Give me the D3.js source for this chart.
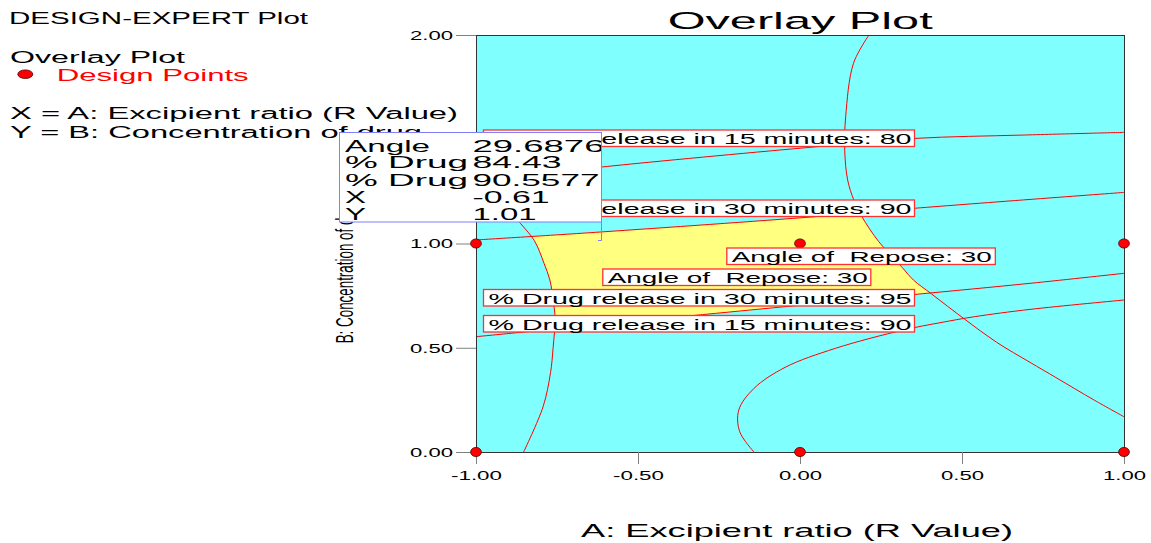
<!DOCTYPE html>
<html>
<head>
<meta charset="utf-8">
<script src="https://cdn.jsdelivr.net/npm/d3@7"></script>
<style>
  body { margin: 0; background: #fff; }
  svg text { font-family: "Liberation Sans", Arial, sans-serif; white-space: pre; }
</style>
</head>
<body>
<script>
// design points, coded levels of A and B
var designX = [-1, 0, 1, -1, 0, 1];
var designY = [0, 0, 0, 1, 1, 1];

var xTicks = [-1, -0.5, 0, 0.5, 1];
var yTicks = [0, 0.5, 1, 1.5, 2];

// contour lines, [A, B] pairs
var angleReposeLeft = [[-0.853, 0], [-0.793, 0.217], [-0.770, 0.38], [-0.762, 0.50], [-0.756, 0.64],
  [-0.762, 0.73], [-0.772, 0.825], [-0.790, 0.905], [-0.820, 1.014], [-0.862, 1.095], [-0.93, 1.22], [-1, 1.33]];
var angleReposeRight = [[0.213, 2.0], [0.165, 1.864], [0.141, 1.608], [0.138, 1.448], [0.147, 1.305],
  [0.166, 1.209], [0.191, 1.129], [0.243, 1.009], [0.316, 0.884], [0.350, 0.825], [0.406, 0.758],
  [0.509, 0.636], [0.607, 0.526], [0.710, 0.430], [0.790, 0.357], [0.908, 0.249], [1.0, 0.169]];
var release15min80 = [[-1, 1.30], [-0.58, 1.372], [0.05, 1.464], [0.354, 1.504], [0.686, 1.520], [1, 1.533]];
var release15min90 = [[-0.142, 0], [-0.186, 0.097], [-0.189, 0.201], [-0.142, 0.305], [-0.046, 0.406],
  [0.109, 0.497], [0.319, 0.585], [0.432, 0.620], [0.539, 0.649], [0.710, 0.684], [1, 0.729]];
var release30min90 = [[-1, 1.017], [-0.617, 1.055], [0.05, 1.129], [0.354, 1.169], [1, 1.245]];
var release30min95 = [[-1, 0.553], [0, 0.704], [0.350, 0.755], [0.710, 0.809], [1, 0.857]];

var flagLabels = ["% Drug release in 15 minutes: 80", "% Drug release in 30 minutes: 90",
  "Angle of  Repose: 30", "Angle of  Repose: 30",
  "% Drug release in 30 minutes: 95", "% Drug release in 15 minutes: 90"];

var probeNames = ["Angle", "% Drug", "% Drug", "X", "Y"];
var probeValues = ["29.6876", "84.43", "90.5577", "-0.61", "1.01"];

var W = 1151, H = 543;
var svg = d3.select("body").append("svg").attr("width", W).attr("height", H);

var x = d3.scaleLinear().domain([-1, 1]).range([476, 1124]);
var y = d3.scaleLinear().domain([0, 2]).range([452, 35]);

function stretched(sel, txt, tx, ty, size, len) {
  return sel.append("text")
    .attr("x", tx).attr("y", ty)
    .attr("font-size", size)
    .attr("textLength", len)
    .attr("lengthAdjust", "spacingAndGlyphs")
    .text(txt);
}

var line = d3.line()
  .x(function(d) { return x(d[0]); })
  .y(function(d) { return y(d[1]); })
  .curve(d3.curveCatmullRom.alpha(0.5));
var straight = d3.line().x(function(d) { return x(d[0]); }).y(function(d) { return y(d[1]); });
function area(pts, corners) {
  // smooth edge along the contour, straight edges round the corners
  var d = line(pts);
  return d + straight([pts[pts.length - 1]].concat(corners, [pts[0]])).replace(/^M/, "L") + "Z";
}

var defs = svg.append("defs");
defs.append("clipPath").attr("id", "plotClip").append("rect")
  .attr("x", x(-1)).attr("y", y(2)).attr("width", x(1) - x(-1)).attr("height", y(0) - y(2));
defs.append("clipPath").attr("id", "belowTop").append("path")
  .attr("d", area(release30min90, [[1, 0], [-1, 0]]));
defs.append("clipPath").attr("id", "aboveBottom").append("path")
  .attr("d", area(release30min95, [[1, 2], [-1, 2]]));
defs.append("clipPath").attr("id", "rightOfLeft").append("path")
  .attr("d", area(angleReposeLeft, [[-1, 2], [1, 2], [1, 0]]));
defs.append("clipPath").attr("id", "leftOfRight").append("path")
  .attr("d", area(angleReposeRight, [[1, 0], [-1, 0], [-1, 2]]));

var plot = svg.append("g").attr("clip-path", "url(#plotClip)");
plot.append("rect")
  .attr("x", x(-1)).attr("y", y(2)).attr("width", x(1) - x(-1)).attr("height", y(0) - y(2))
  .attr("fill", "#80ffff");

// feasible region
plot.append("g").attr("clip-path", "url(#belowTop)")
  .append("g").attr("clip-path", "url(#aboveBottom)")
  .append("g").attr("clip-path", "url(#rightOfLeft)")
  .append("g").attr("clip-path", "url(#leftOfRight)")
  .append("rect")
  .attr("x", x(-1)).attr("y", y(2)).attr("width", x(1) - x(-1)).attr("height", y(0) - y(2))
  .attr("fill", "#ffff80");

plot.selectAll("path.contour")
  .data([angleReposeLeft, angleReposeRight, release15min80, release15min90, release30min90, release30min95])
  .enter()
  .append("path")
  .attr("class", "contour")
  .attr("d", line)
  .attr("fill", "none")
  .attr("stroke", "#ff0000")
  .attr("stroke-width", 1);

// frame
svg.append("rect")
  .attr("x", x(-1) + 0.5).attr("y", y(2) + 0.5)
  .attr("width", x(1) - x(-1)).attr("height", y(0) - y(2))
  .attr("fill", "none").attr("stroke", "#333").attr("stroke-width", 1);

// axes
var fmt = function(d) { return d.toFixed(2); };
var yAxis = svg.append("g")
  .attr("transform", "translate(" + x(-1) + ",0)")
  .call(d3.axisLeft(y).tickValues(yTicks).tickSize(20).tickPadding(3).tickFormat(fmt));
var xAxis = svg.append("g")
  .attr("transform", "translate(0," + y(0) + ")")
  .call(d3.axisBottom(x).tickValues(xTicks).tickSize(12).tickPadding(7).tickFormat(fmt));
[yAxis, xAxis].forEach(function(g) {
  g.select(".domain").remove();
  g.attr("font-family", null).attr("font-size", 12);
  g.selectAll(".tick line").attr("stroke", "#808080");
  g.selectAll(".tick text")
    .attr("fill", "#000")
    .attr("textLength", function(d) { return d < 0 ? 51 : 43; })
    .attr("lengthAdjust", "spacingAndGlyphs");
});
yAxis.selectAll(".tick text").attr("dy", "0.37em");

// design points
svg.selectAll("ellipse.design")
  .data(designX)
  .enter()
  .append("ellipse")
  .attr("class", "design")
  .attr("cx", function(d) { return x(d); })
  .attr("cy", function(d, i) { return y(designY[i]); })
  .attr("rx", 5.4).attr("ry", 4.6)
  .attr("fill", "#ff0000").attr("stroke", "#500").attr("stroke-width", 0.8);

// contour flags
var flagBoxes = [
  { x: 483.5, y: 130, w: 431, len: 423 },
  { x: 483.5, y: 200, w: 431, len: 423 },
  { x: 726.8, y: 248, w: 268.5, len: 260 },
  { x: 602.8, y: 269, w: 268, len: 260 },
  { x: 483.5, y: 289.5, w: 431, len: 423 },
  { x: 483.5, y: 315.5, w: 431, len: 423 }
];
var flags = svg.selectAll("g.flag")
  .data(flagLabels)
  .enter()
  .append("g")
  .attr("class", "flag");
flags.append("rect")
  .attr("x", function(d, i) { return flagBoxes[i].x; })
  .attr("y", function(d, i) { return flagBoxes[i].y; })
  .attr("width", function(d, i) { return flagBoxes[i].w; })
  .attr("height", 16.5)
  .attr("fill", "#fff")
  .attr("stroke", "#ff3030").attr("stroke-width", 1.3);
flags.append("text")
  .attr("x", function(d, i) { return flagBoxes[i].x + 5; })
  .attr("y", function(d, i) { return flagBoxes[i].y + 14.3; })
  .attr("font-size", 15.5)
  .attr("textLength", function(d, i) { return flagBoxes[i].len; })
  .attr("lengthAdjust", "spacingAndGlyphs")
  .attr("fill", "#000")
  .text(function(d) { return d; });

// titles and legend
stretched(svg, "DESIGN-EXPERT Plot", 9, 24, 16, 299);
stretched(svg, "Overlay Plot", 10, 62.7, 16, 175);
stretched(svg, "Design Points", 56.7, 81, 16, 192).attr("fill", "#ff0000");
svg.append("ellipse").attr("cx", 25.3).attr("cy", 74.2).attr("rx", 7.5).attr("ry", 4.3)
  .attr("fill", "#ff0000").attr("stroke", "#400").attr("stroke-width", 0.8);
stretched(svg, "X = A: Excipient ratio (R Value)", 10, 119.3, 16, 448);
stretched(svg, "Y = B: Concentration of drug", 10, 138.3, 16, 412);
stretched(svg, "Overlay Plot", 667.7, 29.3, 24.5, 265);
stretched(svg, "A: Excipient ratio (R Value)", 581, 536.7, 18.6, 432);
svg.append("text")
  .attr("transform", "translate(353,343.3) scale(1.8,1) rotate(-90)")
  .attr("font-size", 13.4)
  .attr("textLength", 145)
  .attr("lengthAdjust", "spacingAndGlyphs")
  .text("B: Concentration of drug");

// probe box
var probe = svg.append("g");
defs.append("clipPath").attr("id", "probeClip").append("rect")
  .attr("x", 339).attr("y", 132.5).attr("width", 262).attr("height", 89.5);
probe.append("rect")
  .attr("x", 339.5).attr("y", 132.5).attr("width", 262).attr("height", 89.5)
  .attr("fill", "#fff").attr("stroke", "#8080ff").attr("stroke-width", 1);
probe.append("path")
  .attr("d", "M601.5,222V240.5H598")
  .attr("fill", "none").attr("stroke", "#8080ff").attr("stroke-width", 1);
var probeText = probe.append("g").attr("clip-path", "url(#probeClip)");
var rowY = [151.5, 168, 185.5, 203, 220];
var nameLen = [85, 123, 123, 21, 21];
var valueLen = [132, 89, 127, 77, 64];
probeNames.forEach(function(n, i) {
  stretched(probeText, n, 345, rowY[i], 16.5, nameLen[i]);
  stretched(probeText, probeValues[i], 472.5, rowY[i], 16.5, valueLen[i]);
});
</script>
</body>
</html>
